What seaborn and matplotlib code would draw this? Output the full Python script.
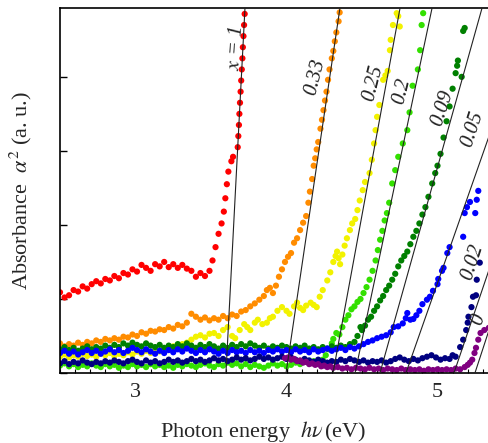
import numpy as np
import pandas as pd
import seaborn as sns
import matplotlib.pyplot as plt
from matplotlib.ticker import MultipleLocator

## data: photon energy (eV) and absorbance alpha^2 (a.u.)
red_E = [2.50, 2.53, 2.56, 2.59, 2.62, 2.65, 2.68, 2.71, 2.74, 2.77, 2.80, 2.83, 2.86, 2.89, 2.92,
         2.95, 2.98, 3.01, 3.04, 3.07, 3.10, 3.13, 3.16, 3.19, 3.22, 3.25, 3.28, 3.31, 3.34, 3.37,
         3.40, 3.43, 3.46, 3.49, 3.51, 3.53, 3.55, 3.57, 3.585, 3.595, 3.605, 3.615, 3.635, 3.646,
         3.677, 3.681, 3.685, 3.688, 3.692, 3.696, 3.700, 3.704, 3.708, 3.711, 3.715, 3.719, 3.723]
red_A = [1.09, 1.02, 1.05, 1.12, 1.10, 1.17, 1.14, 1.20, 1.24, 1.21, 1.27, 1.25, 1.31, 1.28, 1.35,
         1.33, 1.40, 1.37, 1.46, 1.42, 1.38, 1.47, 1.44, 1.50, 1.43, 1.47, 1.42, 1.46, 1.41, 1.38,
         1.30, 1.35, 1.31, 1.38, 1.52, 1.70, 1.88, 2.02, 2.18, 2.36, 2.55, 2.72, 2.86, 2.92,
         3.05, 3.20, 3.35, 3.50, 3.65, 3.80, 3.95, 4.10, 4.25, 4.40, 4.55, 4.70, 4.85]

orange_E = [2.50, 2.53, 2.56, 2.59, 2.62, 2.65, 2.68, 2.71, 2.74, 2.77, 2.80, 2.83, 2.86, 2.89, 2.92,
            2.95, 2.98, 3.01, 3.04, 3.07, 3.10, 3.13, 3.16, 3.19, 3.22, 3.25, 3.28, 3.31, 3.34, 3.37,
            3.40, 3.43, 3.46, 3.49, 3.52, 3.55, 3.58, 3.61, 3.64, 3.67, 3.70, 3.73, 3.76, 3.79, 3.82,
            3.85, 3.87, 3.89, 3.91, 3.93, 3.95, 3.97, 3.99, 4.01, 4.03, 4.05, 4.07, 4.09, 4.11, 4.13,
            4.145, 4.155, 4.17, 4.18, 4.19, 4.20, 4.21, 4.225, 4.235, 4.245, 4.255, 4.265, 4.275,
            4.285, 4.30, 4.31, 4.32, 4.33, 4.345, 4.352]
orange_A = [0.40, 0.36, 0.39, 0.37, 0.41, 0.38, 0.42, 0.40, 0.44, 0.42, 0.46, 0.44, 0.47, 0.45, 0.49,
            0.48, 0.52, 0.50, 0.55, 0.53, 0.57, 0.56, 0.59, 0.58, 0.62, 0.60, 0.65, 0.63, 0.68, 0.80,
            0.76, 0.72, 0.75, 0.71, 0.74, 0.72, 0.77, 0.74, 0.79, 0.77, 0.83, 0.85, 0.90, 0.94, 0.99,
            1.04, 1.12, 1.15, 1.08, 1.18, 1.30, 1.40, 1.50, 1.57, 1.62, 1.76, 1.82, 1.93, 2.03, 2.12,
            2.30, 2.45, 2.62, 2.80, 2.90, 3.02, 3.12, 3.30, 3.42, 3.55, 3.68, 3.80, 3.96,
            4.10, 4.25, 4.35, 4.48, 4.60, 4.75, 4.87]

yellow_E = [2.50, 2.53, 2.56, 2.59, 2.62, 2.65, 2.68, 2.71, 2.74, 2.77, 2.80, 2.83, 2.86, 2.89, 2.92,
            2.95, 2.98, 3.01, 3.04, 3.07, 3.10, 3.13, 3.16, 3.19, 3.22, 3.25, 3.28, 3.31, 3.34, 3.37,
            3.40, 3.43, 3.46, 3.49, 3.52, 3.55, 3.58, 3.61, 3.64, 3.66, 3.69, 3.72, 3.74, 3.76, 3.79,
            3.81, 3.84, 3.87, 3.89, 3.91, 3.94, 3.97, 4.00, 4.02, 4.05, 4.07, 4.09, 4.11, 4.13, 4.16,
            4.18, 4.20, 4.22, 4.24, 4.27, 4.29, 4.31, 4.325, 4.335, 4.345, 4.355, 4.37, 4.385, 4.40,
            4.42, 4.435, 4.455, 4.47, 4.485, 4.505, 4.52, 4.55, 4.565, 4.58, 4.59, 4.60, 4.615,
            4.64, 4.655, 4.67, 4.685, 4.69, 4.705, 4.73, 4.75, 4.74]
yellow_A = [0.22, 0.25, 0.21, 0.24, 0.22, 0.26, 0.23, 0.25, 0.22, 0.26, 0.24, 0.27, 0.23, 0.26, 0.24,
            0.28, 0.25, 0.29, 0.26, 0.30, 0.27, 0.31, 0.29, 0.33, 0.31, 0.36, 0.34, 0.39, 0.41, 0.45,
            0.49, 0.51, 0.48, 0.53, 0.54, 0.50, 0.58, 0.62, 0.50, 0.47, 0.58, 0.66, 0.62, 0.58, 0.68,
            0.72, 0.66, 0.68, 0.74, 0.76, 0.84, 0.89, 0.84, 0.80, 0.90, 0.95, 0.88, 0.85, 0.91, 0.95,
            0.92, 0.89, 1.03, 1.12, 1.25, 1.36, 1.50, 1.58, 1.64, 1.55, 1.47, 1.60, 1.72, 1.82,
            1.93, 2.02, 2.08, 2.20, 2.33, 2.47, 2.58, 2.70, 2.88, 3.10, 3.28, 3.46, 3.62,
            3.96, 4.02, 4.08, 4.36, 4.50, 4.70, 4.86, 4.68, 4.82]

lime_E = [2.50, 2.53, 2.56, 2.59, 2.62, 2.65, 2.68, 2.71, 2.74, 2.77, 2.80, 2.83, 2.86, 2.89, 2.92,
          2.95, 2.98, 3.01, 3.04, 3.07, 3.10, 3.13, 3.16, 3.19, 3.22, 3.25, 3.28, 3.31, 3.34, 3.37,
          3.40, 3.43, 3.46, 3.49, 3.52, 3.55, 3.58, 3.61, 3.64, 3.67, 3.70, 3.73, 3.76, 3.79, 3.82,
          3.85, 3.88, 3.91, 3.94, 3.97, 4.00, 4.03, 4.06, 4.09, 4.12, 4.15, 4.18, 4.21, 4.24, 4.26,
          4.28, 4.30, 4.31, 4.33, 4.35, 4.37, 4.39, 4.41, 4.43, 4.45, 4.47, 4.49, 4.51, 4.53, 4.55,
          4.57, 4.59, 4.605, 4.62, 4.635, 4.65, 4.665, 4.68, 4.70, 4.72, 4.74, 4.77, 4.80, 4.815,
          4.835, 4.87, 4.885, 4.895, 4.905]
lime_A = [0.10, 0.13, 0.09, 0.12, 0.08, 0.11, 0.09, 0.13, 0.10, 0.08, 0.12, 0.09, 0.11, 0.07, 0.10,
          0.08, 0.12, 0.09, 0.11, 0.08, 0.12, 0.09, 0.11, 0.08, 0.10, 0.07, 0.11, 0.09, 0.12, 0.10,
          0.08, 0.11, 0.13, 0.10, 0.08, 0.12, 0.10, 0.14, 0.11, 0.13, 0.09, 0.12, 0.08, 0.11, 0.09,
          0.07, 0.10, 0.13, 0.10, 0.12, 0.09, 0.11, 0.14, 0.12, 0.15, 0.13, 0.16, 0.14, 0.18, 0.24,
          0.32, 0.40, 0.46, 0.54, 0.52, 0.62, 0.72, 0.78, 0.86, 0.90, 0.96, 1.00, 1.08, 1.16, 1.26,
          1.38, 1.52, 1.66, 1.80, 1.92, 2.06, 2.16, 2.30, 2.56, 2.74, 2.92, 3.10, 3.28, 3.52,
          3.88, 4.10, 4.36, 4.70, 4.86]

green_E = [2.50, 2.53, 2.56, 2.59, 2.62, 2.65, 2.68, 2.71, 2.74, 2.77, 2.80, 2.83, 2.86, 2.89, 2.92,
           2.95, 2.98, 3.01, 3.04, 3.07, 3.10, 3.13, 3.16, 3.19, 3.22, 3.25, 3.28, 3.31, 3.34, 3.37,
           3.40, 3.43, 3.46, 3.49, 3.52, 3.55, 3.58, 3.61, 3.64, 3.67, 3.70, 3.73, 3.76, 3.79, 3.82,
           3.85, 3.88, 3.91, 3.94, 3.97, 4.00, 4.03, 4.06, 4.09, 4.12, 4.15, 4.18, 4.21, 4.24, 4.27,
           4.30, 4.33, 4.36, 4.39, 4.42, 4.45, 4.47, 4.49, 4.50, 4.52, 4.54, 4.56, 4.58, 4.60, 4.62,
           4.64, 4.66, 4.68, 4.70, 4.72, 4.74, 4.76, 4.78, 4.80, 4.82, 4.84, 4.86, 4.88, 4.90, 4.92,
           4.94, 4.965, 4.985, 5.00, 5.02, 5.04, 5.06, 5.08, 5.10, 5.12, 5.13, 5.135, 5.16, 5.17, 5.18]
green_A = [0.32, 0.35, 0.31, 0.34, 0.30, 0.33, 0.36, 0.32, 0.35, 0.33, 0.37, 0.34, 0.38, 0.35, 0.40,
           0.37, 0.41, 0.38, 0.36, 0.40, 0.37, 0.35, 0.38, 0.34, 0.37, 0.35, 0.39, 0.36, 0.40, 0.37,
           0.34, 0.38, 0.35, 0.39, 0.36, 0.33, 0.37, 0.34, 0.38, 0.35, 0.39, 0.36, 0.40, 0.37, 0.34,
           0.37, 0.33, 0.36, 0.34, 0.37, 0.35, 0.33, 0.36, 0.34, 0.37, 0.33, 0.35, 0.32, 0.35, 0.33,
           0.36, 0.34, 0.37, 0.35, 0.39, 0.42, 0.50, 0.62, 0.58, 0.64, 0.72, 0.76, 0.84, 0.90, 0.98,
           1.04, 1.12, 1.18, 1.26, 1.34, 1.44, 1.52, 1.58, 1.64, 1.74, 1.84, 1.92, 2.02, 2.14, 2.24,
           2.38, 2.56, 2.70, 2.80, 2.96, 3.18, 3.40, 3.60, 3.84, 4.05, 4.15, 4.22, 4.00, 4.62, 4.66]

blue_E = [2.50, 2.53, 2.56, 2.59, 2.62, 2.65, 2.68, 2.71, 2.74, 2.77, 2.80, 2.83, 2.86, 2.89, 2.92,
          2.95, 2.98, 3.01, 3.04, 3.07, 3.10, 3.13, 3.16, 3.19, 3.22, 3.25, 3.28, 3.31, 3.34, 3.37,
          3.40, 3.43, 3.46, 3.49, 3.52, 3.55, 3.58, 3.61, 3.64, 3.67, 3.70, 3.73, 3.76, 3.79, 3.82,
          3.85, 3.88, 3.91, 3.94, 3.97, 4.00, 4.03, 4.06, 4.09, 4.12, 4.15, 4.18, 4.21, 4.24, 4.27,
          4.30, 4.33, 4.36, 4.39, 4.42, 4.45, 4.48, 4.51, 4.54, 4.57, 4.60, 4.63, 4.66, 4.69, 4.71,
          4.74, 4.77, 4.79, 4.80, 4.82, 4.84, 4.86, 4.88, 4.90, 4.93, 4.95, 4.97, 5.00, 5.005, 5.03,
          5.04, 5.065, 5.08, 5.17, 5.18, 5.195, 5.215, 5.25, 5.26, 5.27]
blue_A = [0.27, 0.30, 0.26, 0.29, 0.25, 0.28, 0.31, 0.27, 0.30, 0.26, 0.29, 0.32, 0.28, 0.31, 0.27,
          0.30, 0.34, 0.31, 0.28, 0.32, 0.29, 0.26, 0.30, 0.27, 0.31, 0.28, 0.32, 0.29, 0.33, 0.30,
          0.27, 0.31, 0.28, 0.32, 0.29, 0.26, 0.30, 0.27, 0.31, 0.28, 0.30, 0.27, 0.31, 0.28, 0.30,
          0.27, 0.31, 0.29, 0.32, 0.29, 0.31, 0.28, 0.32, 0.29, 0.31, 0.28, 0.32, 0.29, 0.31, 0.33,
          0.30, 0.32, 0.34, 0.31, 0.35, 0.33, 0.36, 0.39, 0.42, 0.44, 0.47, 0.49, 0.51, 0.55, 0.62,
          0.63, 0.67, 0.74, 0.81, 0.72, 0.73, 0.78, 0.84, 0.93, 0.99, 1.03, 1.11, 1.20, 1.27, 1.38,
          1.42, 1.62, 1.70, 1.84, 2.16, 2.24, 2.31, 2.16, 2.34, 2.46]

navy_E = [2.50, 2.53, 2.56, 2.59, 2.62, 2.65, 2.68, 2.71, 2.74, 2.77, 2.80, 2.83, 2.86, 2.89, 2.92,
          2.95, 2.98, 3.01, 3.04, 3.07, 3.10, 3.13, 3.16, 3.19, 3.22, 3.25, 3.28, 3.31, 3.34, 3.37,
          3.40, 3.43, 3.46, 3.49, 3.52, 3.55, 3.58, 3.61, 3.64, 3.67, 3.70, 3.73, 3.76, 3.79, 3.82,
          3.85, 3.88, 3.91, 3.94, 3.97, 4.00, 4.03, 4.06, 4.09, 4.12, 4.15, 4.18, 4.21, 4.24, 4.27,
          4.30, 4.33, 4.36, 4.39, 4.42, 4.45, 4.48, 4.51, 4.54, 4.57, 4.60, 4.63, 4.66, 4.69, 4.72,
          4.75, 4.78, 4.81, 4.84, 4.87, 4.90, 4.93, 4.96, 4.99, 5.02, 5.05, 5.08, 5.10, 5.12, 5.15,
          5.17, 5.19, 5.20, 5.205, 5.225, 5.235, 5.255, 5.26, 5.28]
navy_A = [0.13, 0.16, 0.12, 0.15, 0.13, 0.17, 0.14, 0.12, 0.15, 0.13, 0.16, 0.14, 0.17, 0.15, 0.13,
          0.16, 0.18, 0.15, 0.13, 0.17, 0.14, 0.16, 0.13, 0.15, 0.18, 0.15, 0.17, 0.14, 0.16, 0.19,
          0.16, 0.18, 0.15, 0.17, 0.20, 0.17, 0.19, 0.16, 0.18, 0.21, 0.18, 0.20, 0.17, 0.19, 0.22,
          0.19, 0.21, 0.18, 0.20, 0.22, 0.19, 0.21, 0.18, 0.16, 0.19, 0.17, 0.15, 0.18, 0.16, 0.14,
          0.16, 0.15, 0.18, 0.16, 0.19, 0.17, 0.15, 0.17, 0.14, 0.16, 0.15, 0.17, 0.14, 0.16, 0.19,
          0.21, 0.18, 0.16, 0.19, 0.17, 0.20, 0.22, 0.24, 0.21, 0.18, 0.20, 0.19, 0.24, 0.22, 0.35,
          0.45, 0.58, 0.68, 0.76, 0.89, 1.03, 1.05, 1.26, 1.49]

purple_E = [3.99, 4.01, 4.03, 4.05, 4.07, 4.09, 4.11, 4.13, 4.15, 4.17, 4.19, 4.21, 4.23, 4.25, 4.27,
            4.29, 4.31, 4.34, 4.37, 4.40, 4.43, 4.46, 4.49, 4.52, 4.55, 4.58, 4.61, 4.64, 4.67, 4.70,
            4.73, 4.76, 4.79, 4.82, 4.85, 4.88, 4.91, 4.94, 4.97, 5.00, 5.03, 5.06, 5.09, 5.12, 5.15,
            5.18, 5.20, 5.215, 5.23, 5.245, 5.255, 5.27, 5.285, 5.31, 5.34]
purple_A = [0.20, 0.21, 0.18, 0.19, 0.16, 0.17, 0.14, 0.15, 0.12, 0.13, 0.11, 0.12, 0.09, 0.10, 0.08,
            0.09, 0.07, 0.08, 0.06, 0.07, 0.05, 0.07, 0.06, 0.05, 0.07, 0.05, 0.06, 0.04, 0.06, 0.05,
            0.04, 0.06, 0.04, 0.05, 0.04, 0.05, 0.03, 0.05, 0.04, 0.05, 0.04, 0.05, 0.04, 0.06, 0.05,
            0.08, 0.11, 0.14, 0.18, 0.27, 0.34, 0.45, 0.54, 0.58, 0.61]

samples = ["x=1", "0.33", "0.25", "0.2", "0.09", "0.05", "0.02", "0"]
colors = ["#ff0000", "#ff8c00", "#f2f200", "#33e000", "#008000", "#0000ff", "#000080", "#800080"]
series_E = [red_E, orange_E, yellow_E, lime_E, green_E, blue_E, navy_E, purple_E]
series_A = [red_A, orange_A, yellow_A, lime_A, green_A, blue_A, navy_A, purple_A]

# linear fits: energy where the line meets A=0 and A=A_TOP
A_TOP = 4.93
fit_lo = [3.599, 3.997, 4.308, 4.454, 4.619, 4.791, 5.109, 5.248]
fit_hi = [3.725, 4.354, 4.752, 4.964, 5.295, 5.639, 5.930, 6.040]

# label text, position and rotation
lab_text = [r"$x$ = 1", "0.33", "0.25", "0.2", "0.09", "0.05", "0.02", "0"]
lab_E = [3.668, 4.19, 4.573, 4.765, 5.036, 5.235, 5.235, 5.275]
lab_A = [4.38, 4.00, 3.92, 3.80, 3.58, 3.30, 1.50, 0.72]
lab_rot = [86, 76, 76, 76, 72, 72, 72, 72]

rows = []
for name, E, A in zip(samples, series_E, series_A):
    rows.append(pd.DataFrame({"E": E, "A": A, "sample": name}))
df = pd.concat(rows, ignore_index=True)

sns.set_theme(style="ticks")
plt.rcParams['font.family'] = ['Liberation Serif', 'DejaVu Serif']
plt.rcParams['mathtext.fontset'] = 'stix'

fig = plt.figure(figsize=(4.89, 4.43), dpi=100)
ax = fig.add_axes([60/489, 70/443, 429/489, 365/443])

sns.scatterplot(data=df, x="E", y="A", hue="sample", palette=dict(zip(samples, colors)),
                s=20, linewidth=0, legend=False, ax=ax, zorder=2)

for lo, hi in zip(fit_lo, fit_hi):
    ax.plot([lo, hi], [0, A_TOP], color="#222222", lw=0.8, zorder=3)

for t, e, a, r in zip(lab_text, lab_E, lab_A, lab_rot):
    ax.text(e, a, t, rotation=r, ha="center", va="center", fontsize=15,
            fontstyle="italic", color="#222222", zorder=4)

ax.set_xlim(2.5, 2.5 + 429/151)
ax.set_ylim(0, A_TOP)
ax.xaxis.set_major_locator(MultipleLocator(1))
ax.xaxis.set_minor_locator(MultipleLocator(0.1))
ax.yaxis.set_major_locator(MultipleLocator(1))
ax.set_yticklabels([])
ax.tick_params(axis="both", which="both", direction="in", color="black")
ax.tick_params(axis="x", which="major", length=5, width=1, labelsize=16, pad=7)
ax.tick_params(axis="x", which="minor", length=3, width=0.8)
ax.tick_params(axis="y", which="major", length=5, width=1)
for side in ["left", "bottom", "top"]:
    ax.spines[side].set_color("black")
    ax.spines[side].set_linewidth(1.2)
ax.spines["right"].set_visible(False)

ax.set_xlabel(r"Photon energy  $h\nu\,$(eV)", fontsize=16)
ax.set_ylabel(r"Absorbance  $\alpha^2$ (a. u.)", fontsize=16)
ax.xaxis.set_label_coords(0.473, -0.125)
ax.yaxis.set_label_coords(-0.06, 0.5)

fig.savefig("out.png", dpi=100)
